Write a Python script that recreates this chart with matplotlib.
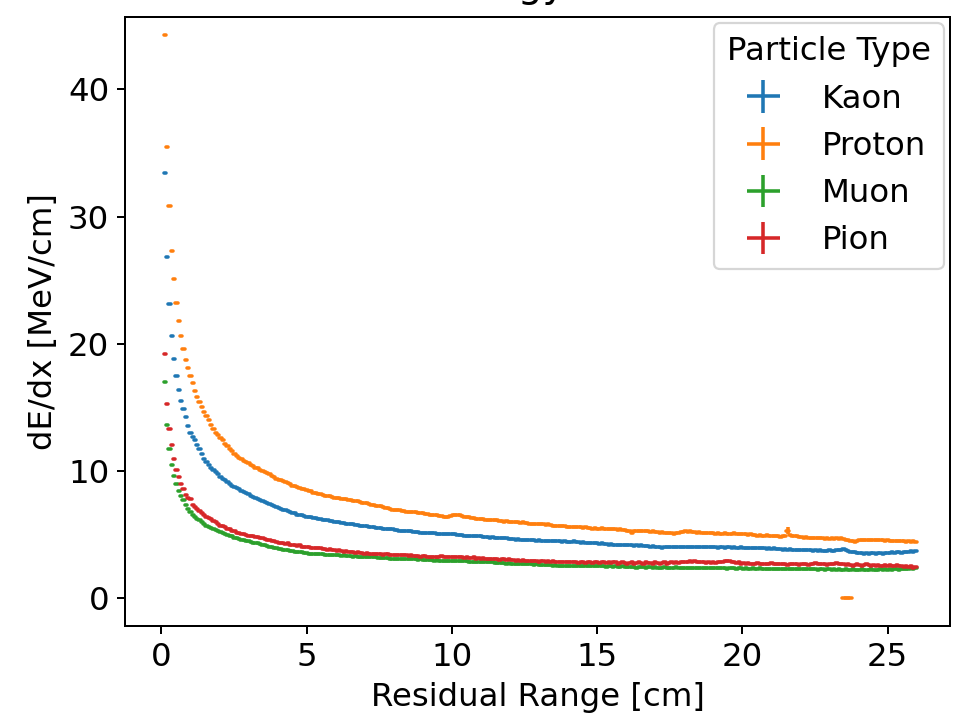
import numpy as np
import matplotlib
matplotlib.use("Agg")
import matplotlib.pyplot as plt

# Residual-range binning (bin centres, cm)
bin_width = 0.08
n_bins = 324
residual_range = (np.arange(n_bins) + 1.5) * bin_width

particles = ["Kaon", "Proton", "Muon", "Pion"]
colors = ["#1f77b4", "#ff7f0e", "#2ca02c", "#d62728"]

kaon = [
    33.4, 26.8, 23.1, 20.6, 18.8, 17.5, 16.4, 15.5, 14.9, 14.2,
    13.5, 13.0, 12.7, 12.4, 12.0, 11.7, 11.3, 10.9, 10.7, 10.45,
    10.25, 10.1, 9.95, 9.75, 9.55, 9.4, 9.3, 9.15, 9.0, 8.85,
    8.75, 8.65, 8.55, 8.45, 8.35, 8.25, 8.15, 8.05, 7.95, 7.85,
    7.75, 7.7, 7.6, 7.55, 7.45, 7.4, 7.3, 7.2, 7.15, 7.05,
    7.0, 6.95, 6.9, 6.85, 6.8, 6.7, 6.65, 6.55, 6.5, 6.5,
    6.45, 6.4, 6.4, 6.35, 6.3, 6.3, 6.25, 6.2, 6.15, 6.15,
    6.1, 6.05, 6.05, 6.0, 5.95, 5.95, 5.9, 5.9, 5.85, 5.85,
    5.8, 5.8, 5.75, 5.75, 5.7, 5.7, 5.65, 5.65, 5.6, 5.6,
    5.55, 5.5, 5.5, 5.5, 5.45, 5.45, 5.4, 5.4, 5.4, 5.35,
    5.35, 5.3, 5.3, 5.3, 5.25, 5.25, 5.25, 5.2, 5.2, 5.2,
    5.15, 5.15, 5.15, 5.1, 5.1, 5.1, 5.1, 5.05, 5.05, 5.05,
    5.05, 5.0, 5.05, 5.0, 5.0, 5.0, 4.95, 4.95, 4.95, 4.9,
    4.9, 4.9, 4.85, 4.9, 4.85, 4.85, 4.85, 4.8, 4.8, 4.8,
    4.75, 4.8, 4.75, 4.75, 4.7, 4.7, 4.7, 4.7, 4.65, 4.65,
    4.65, 4.6, 4.65, 4.6, 4.6, 4.55, 4.6, 4.55, 4.55, 4.55,
    4.5, 4.55, 4.5, 4.5, 4.5, 4.5, 4.45, 4.5, 4.45, 4.45,
    4.45, 4.4, 4.45, 4.4, 4.4, 4.4, 4.45, 4.4, 4.4, 4.35,
    4.4, 4.35, 4.35, 4.3, 4.3, 4.3, 4.3, 4.25, 4.3, 4.25,
    4.25, 4.2, 4.25, 4.2, 4.2, 4.2, 4.2, 4.15, 4.2, 4.15,
    4.15, 4.15, 4.1, 4.15, 4.1, 4.15, 4.1, 4.1, 4.1, 4.05,
    4.1, 4.05, 4.0, 4.0, 3.95, 4.0, 4.0, 4.05, 4.05, 4.0,
    4.05, 4.05, 4.0, 4.05, 4.05, 4.0, 4.05, 4.05, 4.0, 4.05,
    4.0, 4.05, 4.0, 4.0, 4.05, 4.0, 4.0, 4.0, 3.95, 4.0,
    4.0, 3.95, 4.0, 4.0, 3.95, 4.0, 3.95, 3.95, 4.0, 3.95,
    3.95, 3.9, 3.95, 3.95, 3.9, 3.95, 3.9, 3.9, 3.9, 3.85,
    3.9, 3.85, 3.9, 3.85, 3.85, 3.85, 3.8, 3.85, 3.8, 3.85,
    3.8, 3.8, 3.8, 3.75, 3.8, 3.75, 3.8, 3.75, 3.75, 3.7,
    3.75, 3.7, 3.75, 3.7, 3.7, 3.7, 3.75, 3.7, 3.7, 3.75,
    3.75, 3.8, 3.85, 3.8, 3.7, 3.65, 3.6, 3.6, 3.55, 3.55,
    3.55, 3.5, 3.55, 3.5, 3.55, 3.55, 3.5, 3.55, 3.55, 3.5,
    3.55, 3.55, 3.55, 3.6, 3.55, 3.6, 3.6, 3.55, 3.6, 3.65,
    3.65, 3.7, 3.65, 3.7,
]

proton = [
    44.3, 35.5, 30.8, 27.3, 25.1, 23.2, 21.8, 20.6, 19.6, 18.7,
    18.1, 17.5, 16.9, 16.3, 15.8, 15.4, 15.0, 14.6, 14.3, 14.0,
    13.6, 13.3, 13.0, 12.8, 12.6, 12.4, 12.1, 11.95, 11.75, 11.55,
    11.35, 11.2, 11.05, 10.9, 10.8, 10.7, 10.6, 10.45, 10.35, 10.25,
    10.2, 10.1, 10.0, 9.95, 9.85, 9.75, 9.6, 9.5, 9.4, 9.3,
    9.25, 9.2, 9.1, 9.05, 8.95, 8.85, 8.8, 8.7, 8.65, 8.6,
    8.55, 8.5, 8.4, 8.4, 8.3, 8.25, 8.2, 8.15, 8.1, 8.05,
    8.05, 8.0, 7.95, 7.9, 7.85, 7.85, 7.8, 7.8, 7.75, 7.7,
    7.7, 7.65, 7.6, 7.6, 7.55, 7.5, 7.45, 7.45, 7.4, 7.35,
    7.3, 7.25, 7.2, 7.2, 7.15, 7.1, 7.05, 7.0, 6.95, 6.95,
    6.9, 6.9, 6.85, 6.85, 6.8, 6.8, 6.8, 6.75, 6.75, 6.7,
    6.7, 6.65, 6.6, 6.6, 6.55, 6.55, 6.5, 6.5, 6.45, 6.45,
    6.4, 6.4, 6.4, 6.45, 6.5, 6.55, 6.5, 6.5, 6.45, 6.4,
    6.35, 6.35, 6.3, 6.3, 6.25, 6.2, 6.2, 6.2, 6.15, 6.15,
    6.1, 6.15, 6.1, 6.1, 6.05, 6.05, 6.0, 6.05, 6.0, 6.0,
    6.0, 5.95, 5.95, 5.9, 5.95, 5.9, 5.9, 5.85, 5.85, 5.85,
    5.8, 5.85, 5.8, 5.8, 5.75, 5.8, 5.75, 5.7, 5.7, 5.7,
    5.65, 5.7, 5.65, 5.6, 5.6, 5.6, 5.55, 5.6, 5.55, 5.55,
    5.5, 5.55, 5.5, 5.5, 5.45, 5.5, 5.45, 5.45, 5.5, 5.45,
    5.4, 5.45, 5.45, 5.4, 5.4, 5.35, 5.4, 5.35, 5.35, 5.3,
    5.25, 5.15, 5.25, 5.3, 5.3, 5.25, 5.3, 5.25, 5.25, 5.2,
    5.25, 5.2, 5.2, 5.15, 5.2, 5.15, 5.15, 5.1, 5.1, 5.05,
    5.1, 5.15, 5.2, 5.2, 5.25, 5.2, 5.25, 5.2, 5.2, 5.15,
    5.2, 5.15, 5.15, 5.1, 5.15, 5.1, 5.1, 5.05, 5.1, 5.05,
    5.05, 5.1, 5.05, 5.0, 5.05, 5.1, 5.05, 5.0, 5.05, 5.0,
    5.0, 4.95, 5.0, 4.95, 4.95, 4.9, 4.95, 4.9, 4.9, 4.95,
    4.9, 4.85, 4.9, 4.85, 4.85, 4.8, 4.85, 4.9, 5.3, 4.95,
    4.9, 4.85, 4.85, 4.8, 4.8, 4.75, 4.8, 4.75, 4.75, 4.7,
    4.75, 4.7, 4.7, 4.7, 4.65, 4.7, 4.65, 4.7, 4.65, 4.7,
    4.65, 4.7, 4.65, 4.6, 4.55, 4.5, 4.45, 4.4, 4.45, 4.55,
    4.6, 4.6, 4.55, 4.6, 4.55, 4.6, 4.55, 4.6, 4.55, 4.55,
    4.5, 4.55, 4.5, 4.5, 4.5, 4.45, 4.5, 4.45, 4.45, 4.4,
    4.45, 4.4, 4.45, 4.4,
]

# A few proton bins near 23.6 cm that came out with zero mean dE/dx
proton_zero_bins = [292, 293, 294, 295]
proton_zero_vals = [0.0, 0.0, 0.0, 0.0]

muon = [
    17.0, 13.6, 11.7, 10.5, 9.6, 9.0, 8.4, 8.0, 7.7, 7.3,
    7.0, 6.75, 6.55, 6.4, 6.25, 6.1, 5.95, 5.8, 5.7, 5.6,
    5.5, 5.45, 5.35, 5.25, 5.2, 5.1, 5.0, 4.95, 4.9, 4.85,
    4.75, 4.7, 4.65, 4.6, 4.55, 4.5, 4.45, 4.4, 4.35, 4.35,
    4.3, 4.25, 4.2, 4.15, 4.1, 4.05, 4.0, 3.95, 3.9, 3.85,
    3.85, 3.8, 3.8, 3.75, 3.7, 3.7, 3.65, 3.6, 3.6, 3.6,
    3.55, 3.55, 3.5, 3.5, 3.5, 3.45, 3.45, 3.45, 3.45, 3.4,
    3.4, 3.4, 3.4, 3.35, 3.35, 3.35, 3.3, 3.35, 3.3, 3.3,
    3.3, 3.25, 3.3, 3.25, 3.25, 3.25, 3.2, 3.2, 3.2, 3.2,
    3.2, 3.2, 3.15, 3.15, 3.15, 3.15, 3.15, 3.1, 3.1, 3.1,
    3.1, 3.1, 3.05, 3.1, 3.05, 3.05, 3.05, 3.05, 3.05, 3.0,
    3.05, 3.0, 3.0, 3.0, 3.0, 3.0, 2.95, 3.0, 2.95, 2.95,
    2.95, 2.95, 2.95, 2.9, 2.95, 2.9, 2.9, 2.9, 2.9, 2.9,
    2.9, 2.85, 2.85, 2.85, 2.85, 2.85, 2.85, 2.8, 2.8, 2.8,
    2.8, 2.8, 2.75, 2.75, 2.75, 2.75, 2.75, 2.7, 2.75, 2.7,
    2.7, 2.7, 2.7, 2.65, 2.7, 2.65, 2.65, 2.65, 2.65, 2.6,
    2.65, 2.6, 2.6, 2.6, 2.6, 2.6, 2.6, 2.55, 2.6, 2.55,
    2.55, 2.55, 2.55, 2.55, 2.55, 2.55, 2.5, 2.55, 2.55, 2.5,
    2.55, 2.5, 2.5, 2.5, 2.55, 2.5, 2.5, 2.5, 2.5, 2.5,
    2.45, 2.5, 2.5, 2.45, 2.5, 2.45, 2.45, 2.5, 2.45, 2.45,
    2.45, 2.45, 2.45, 2.4, 2.45, 2.45, 2.45, 2.4, 2.45, 2.45,
    2.4, 2.45, 2.4, 2.4, 2.4, 2.45, 2.4, 2.4, 2.4, 2.4,
    2.45, 2.4, 2.4, 2.35, 2.4, 2.4, 2.4, 2.35, 2.4, 2.4,
    2.35, 2.4, 2.35, 2.35, 2.4, 2.35, 2.35, 2.35, 2.4, 2.35,
    2.35, 2.35, 2.3, 2.35, 2.35, 2.35, 2.3, 2.35, 2.35, 2.3,
    2.35, 2.3, 2.3, 2.35, 2.3, 2.3, 2.35, 2.3, 2.3, 2.3,
    2.3, 2.25, 2.3, 2.3, 2.3, 2.25, 2.3, 2.3, 2.25, 2.3,
    2.25, 2.3, 2.25, 2.25, 2.3, 2.25, 2.25, 2.25, 2.3, 2.25,
    2.25, 2.2, 2.25, 2.25, 2.2, 2.25, 2.25, 2.2, 2.25, 2.2,
    2.25, 2.2, 2.2, 2.25, 2.2, 2.2, 2.25, 2.2, 2.2, 2.2,
    2.25, 2.2, 2.2, 2.2, 2.25, 2.2, 2.2, 2.2, 2.25, 2.2,
    2.25, 2.2, 2.25, 2.2, 2.25, 2.25, 2.2, 2.25, 2.3, 2.25,
    2.3, 2.35, 2.3, 2.35,
]

pion = [
    19.2, 15.3, 13.3, 12.0, 10.9, 10.1, 9.5, 9.0, 8.6, 8.1,
    7.85, 7.8, 7.3, 7.15, 7.0, 6.85, 6.65, 6.55, 6.4, 6.3,
    6.2, 6.05, 5.95, 5.85, 5.7, 5.65, 5.55, 5.45, 5.4, 5.3,
    5.25, 5.15, 5.1, 5.05, 5.0, 4.95, 4.9, 4.9, 4.85, 4.8,
    4.8, 4.75, 4.7, 4.65, 4.6, 4.55, 4.5, 4.45, 4.4, 4.35,
    4.35, 4.3, 4.25, 4.3, 4.2, 4.2, 4.15, 4.1, 4.15, 4.05,
    4.05, 4.0, 4.05, 3.95, 3.95, 3.9, 3.9, 3.95, 3.85, 3.85,
    3.8, 3.85, 3.75, 3.75, 3.7, 3.75, 3.7, 3.65, 3.7, 3.6,
    3.65, 3.6, 3.55, 3.6, 3.55, 3.55, 3.5, 3.55, 3.5, 3.45,
    3.5, 3.45, 3.5, 3.45, 3.4, 3.45, 3.45, 3.4, 3.4, 3.4,
    3.35, 3.4, 3.35, 3.35, 3.4, 3.3, 3.35, 3.3, 3.3, 3.3,
    3.25, 3.3, 3.3, 3.25, 3.2, 3.25, 3.25, 3.25, 3.2, 3.3,
    3.25, 3.25, 3.2, 3.25, 3.25, 3.2, 3.25, 3.2, 3.2, 3.15,
    3.2, 3.15, 3.15, 3.2, 3.1, 3.15, 3.1, 3.15, 3.1, 3.1,
    3.05, 3.1, 3.05, 3.1, 3.0, 3.05, 3.05, 3.0, 3.05, 3.0,
    3.0, 2.95, 3.0, 2.95, 3.0, 2.9, 2.95, 2.95, 2.9, 2.9,
    2.95, 2.85, 2.9, 2.9, 2.85, 2.9, 2.85, 2.9, 2.8, 2.85,
    2.85, 2.8, 2.85, 2.8, 2.85, 2.8, 2.8, 2.85, 2.75, 2.8,
    2.8, 2.75, 2.85, 2.8, 2.75, 2.8, 2.8, 2.75, 2.8, 2.85,
    2.75, 2.8, 2.75, 2.8, 2.8, 2.7, 2.75, 2.8, 2.75, 2.7,
    2.75, 2.8, 2.7, 2.75, 2.8, 2.75, 2.7, 2.8, 2.75, 2.75,
    2.7, 2.8, 2.75, 2.7, 2.75, 2.8, 2.7, 2.75, 2.8, 2.75,
    2.8, 2.75, 2.8, 2.85, 2.8, 2.85, 2.9, 2.85, 2.9, 2.85,
    2.8, 2.85, 2.8, 2.75, 2.8, 2.75, 2.8, 2.75, 2.8, 2.85,
    2.8, 2.9, 2.95, 2.9, 2.85, 2.8, 2.75, 2.8, 2.7, 2.75,
    2.7, 2.75, 2.7, 2.65, 2.7, 2.75, 2.7, 2.65, 2.7, 2.65,
    2.7, 2.75, 2.7, 2.65, 2.7, 2.65, 2.7, 2.65, 2.6, 2.7,
    2.65, 2.7, 2.65, 2.6, 2.65, 2.7, 2.65, 2.6, 2.65, 2.7,
    2.75, 2.7, 2.65, 2.7, 2.65, 2.6, 2.7, 2.65, 2.7, 2.75,
    2.7, 2.65, 2.7, 2.6, 2.65, 2.6, 2.55, 2.6, 2.65, 2.6,
    2.55, 2.6, 2.65, 2.6, 2.55, 2.6, 2.55, 2.6, 2.5, 2.55,
    2.6, 2.55, 2.6, 2.55, 2.5, 2.6, 2.55, 2.5, 2.45, 2.5,
    2.45, 2.5, 2.4, 2.45,
]

# Statistical uncertainty on the mean dE/dx (MeV/cm); one noisy proton bin
base_yerr = 0.03
proton_noisy_bin = 268
proton_noisy_err = 0.3

series = [kaon, proton, muon, pion]

fig = plt.figure(figsize=(6.0125, 4.475), dpi=160)
ax = fig.add_axes([125 / 962, 90 / 716, 825 / 962, 609 / 716])

fs = 14.6
lw = 1.6


def draw(xv, yv, yerr, col, label=None):
    cont = ax.errorbar(xv, yv, xerr=bin_width / 2, yerr=yerr, fmt="none",
                       ecolor=col, elinewidth=lw, label=label)
    cont.lines[2][0].set_capstyle("round")


for name, col, vals in zip(particles, colors, series):
    vals = np.asarray(vals, dtype=float)
    yerr = np.full(vals.shape, base_yerr)
    if name == "Proton":
        yerr[proton_noisy_bin] = proton_noisy_err
    draw(residual_range, vals, yerr, col, label=name)
    if name == "Proton":
        draw(residual_range[proton_zero_bins], proton_zero_vals,
             base_yerr, col)

ax.set_xlim(-1.25, 27.15)
ax.set_ylim(-2.2, 45.7)
ax.set_xticks([0, 5, 10, 15, 20, 25])
ax.set_yticks([0, 10, 20, 30, 40])
ax.tick_params(labelsize=fs, length=3.6, width=0.9)
for s in ax.spines.values():
    s.set_linewidth(0.9)
ax.set_xlabel("Residual Range [cm]", fontsize=fs)
ax.set_ylabel("dE/dx [MeV/cm]", fontsize=fs)
ax.set_title("Mean Energy Loss Rate", fontsize=fs * 1.2, pad=9)

ax.legend(title="Particle Type", loc="upper right", fontsize=fs,
          title_fontsize=fs, borderaxespad=0.2)

fig.savefig("out.png", dpi=160)
